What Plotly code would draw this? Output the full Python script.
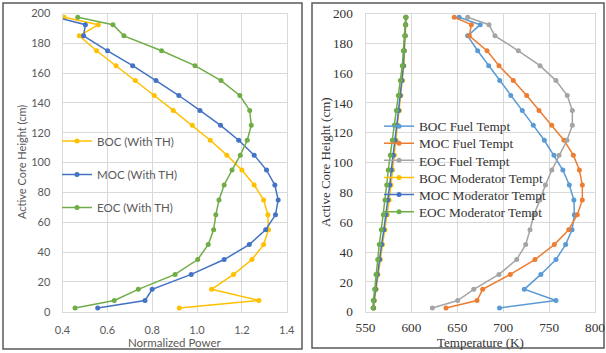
import plotly.graph_objects as go

# ---------------- data ----------------
heights = [2.5, 7.5, 15, 25, 35, 45, 55, 65, 75, 85, 95, 105, 115, 125, 135,
           145, 155, 165, 175, 185, 192.5, 197.5]

boc_power = [0.921, 1.276, 1.065, 1.163, 1.245, 1.297, 1.319, 1.316, 1.297, 1.255, 1.200,
             1.133, 1.059, 0.979, 0.894, 0.809, 0.725, 0.639, 0.552, 0.475, 0.560, 0.408]
moc_power = [0.557, 0.768, 0.800, 0.974, 1.121, 1.233, 1.306, 1.350, 1.362, 1.347, 1.310,
             1.255, 1.186, 1.105, 1.013, 0.919, 0.817, 0.713, 0.601, 0.494, 0.502, 0.370]
eoc_power = [0.456, 0.631, 0.738, 0.902, 1.003, 1.050, 1.074, 1.084, 1.098, 1.121, 1.156,
             1.193, 1.224, 1.242, 1.235, 1.191, 1.107, 0.991, 0.842, 0.674, 0.625, 0.468]

boc_fuel = [696.0, 757.5, 723.0, 741.0, 757.5, 768.0, 775.0, 777.5, 777.0, 772.0, 765.0,
            755.3, 744.8, 732.8, 720.8, 708.2, 696.2, 684.2, 672.2, 661.3, 675.0, 652.0]
moc_fuel = [637.7, 671.5, 677.6, 707.7, 734.6, 755.7, 771.4, 780.7, 786.2, 786.2, 783.0,
            776.4, 766.2, 752.8, 739.0, 725.6, 711.0, 695.4, 682.4, 663.1, 665.3, 646.7]
eoc_fuel = [622.8, 650.4, 667.9, 695.4, 714.7, 724.5, 729.2, 733.5, 740.0, 746.0, 753.0,
            760.8, 769.5, 775.3, 775.3, 769.8, 757.5, 740.1, 716.5, 691.0, 684.5, 661.3]

boc_mod = [559.0, 559.7, 561.6, 563.6, 566.2, 568.6, 571.2, 573.7, 575.8, 577.8, 579.5,
           581.5, 583.4, 585.2, 587.0, 588.6, 590.3, 591.8, 592.5, 593.5, 594.0, 594.3]
moc_mod = [558.7, 559.2, 561.0, 562.9, 565.3, 567.5, 570.0, 572.4, 574.4, 576.4, 578.1,
           580.2, 582.2, 584.1, 586.0, 587.7, 589.6, 591.3, 592.0, 593.2, 593.7, 594.0]
eoc_mod = [558.2, 558.5, 560.0, 561.4, 563.3, 565.0, 567.2, 569.4, 571.2, 573.1, 574.8,
           577.0, 579.2, 581.4, 583.6, 585.7, 588.0, 590.1, 591.2, 592.7, 593.4, 593.8]

left_names = ["BOC (With TH)", "MOC (With TH)", "EOC (With TH)"]
right_names = ["BOC Fuel Tempt", "MOC Fuel Tempt", "EOC Fuel Tempt",
               "BOC Moderator Tempt", "MOC Moderator Tempt", "EOC Moderator Tempt"]

# ---------------- figure ----------------
W, H = 606, 353


def px_x(p):
    return p / W


def px_y(p):
    return 1 - p / H


grid = "#D9D9D9"
sans = "Lato, Noto Sans, sans-serif"
serif = "Liberation Serif, Times New Roman, serif"
left_tick_font = dict(family=sans, size=11, color="#595959")
left_leg_font = dict(family=sans, size=11.5, color="#595959")
right_font = dict(family=serif, size=13.3, color="#333333")

fig = go.Figure()
legend_layouts = {}
k = 0

left_colors = ["#FFC000", "#4472C4", "#70AD47"]
left_leg_y = [141, 174.5, 207.5]
for name, xs, c, ly in zip(left_names, [boc_power, moc_power, eoc_power], left_colors, left_leg_y):
    k += 1
    lid = "legend" if k == 1 else f"legend{k}"
    fig.add_trace(go.Scatter(
        x=xs, y=heights, name=name, mode="lines+markers",
        line=dict(color=c, width=1.5), marker=dict(color=c, size=5),
        xaxis="x", yaxis="y", legend=lid))
    legend_layouts[lid] = dict(x=px_x(57), y=px_y(ly), xanchor="left", yanchor="middle",
                               bgcolor="rgba(0,0,0,0)", font=left_leg_font)

right_colors = ["#5B9BD5", "#ED7D31", "#A5A5A5", "#FFC000", "#4472C4", "#70AD47"]
right_leg_y = [126.5, 143.6, 160.7, 177.8, 194.9, 212.0]
for name, xs, c, ly in zip(right_names,
                           [boc_fuel, moc_fuel, eoc_fuel, boc_mod, moc_mod, eoc_mod],
                           right_colors, right_leg_y):
    k += 1
    lid = f"legend{k}"
    fig.add_trace(go.Scatter(
        x=xs, y=heights, name=name, mode="lines+markers",
        line=dict(color=c, width=1.5), marker=dict(color=c, size=5),
        xaxis="x2", yaxis="y2", legend=lid))
    legend_layouts[lid] = dict(x=px_x(379), y=px_y(ly), xanchor="left", yanchor="middle",
                               bgcolor="rgba(0,0,0,0)", font=right_font)

ydom = [px_y(311.7), px_y(13.5)]
common = dict(showgrid=True, gridcolor=grid, gridwidth=1, showline=True, mirror=True,
              linecolor=grid, zeroline=False, automargin=False)

fig.update_layout(
    width=W, height=H,
    margin=dict(l=0, r=0, t=0, b=0, autoexpand=False),
    paper_bgcolor="white", plot_bgcolor="white",
    xaxis=dict(domain=[px_x(62.5), px_x(286.7)], range=[0.4, 1.4], dtick=0.2,
               tickformat=".1f", tickfont=left_tick_font, ticklabelstandoff=8,
               anchor="y", **common),
    yaxis=dict(domain=ydom, range=[0, 200], dtick=20, tickfont=left_tick_font,
               ticklabelstandoff=9, anchor="x", **common),
    xaxis2=dict(domain=[px_x(365.5), px_x(595)], range=[550, 800], dtick=50,
                tickfont=right_font, ticklabelstandoff=3, anchor="y2", **common),
    yaxis2=dict(domain=ydom, range=[0, 200], dtick=20, tickfont=right_font,
                ticklabelstandoff=9, anchor="x2", **common),
    showlegend=True,
    **legend_layouts,
)

# panel frames
fig.add_shape(type="rect", xref="paper", yref="paper",
              x0=px_x(3), x1=px_x(302), y0=px_y(349), y1=px_y(3),
              line=dict(color="#595959", width=1.5), layer="below")
fig.add_shape(type="rect", xref="paper", yref="paper",
              x0=px_x(312), x1=px_x(604), y0=px_y(348), y1=px_y(3),
              line=dict(color="#595959", width=1.5), layer="below")

# axis titles
fig.add_annotation(text="Normalized Power", xref="paper", yref="paper",
                   x=px_x(175), y=px_y(342.5), showarrow=False,
                   xanchor="center", yanchor="middle",
                   font=dict(family=sans, size=11.5, color="#595959"))
fig.add_annotation(text="Active Core Height (cm)", xref="paper", yref="paper",
                   x=px_x(21), y=px_y(162), showarrow=False, textangle=-90,
                   xanchor="center", yanchor="middle",
                   font=dict(family=sans, size=11, color="#595959"))
fig.add_annotation(text="Temperature (K)", xref="paper", yref="paper",
                   x=px_x(480), y=px_y(342), showarrow=False,
                   xanchor="center", yanchor="middle",
                   font=dict(family=serif, size=13, color="#333333"))
fig.add_annotation(text="Active Core Height (cm)", xref="paper", yref="paper",
                   x=px_x(325), y=px_y(162), showarrow=False, textangle=-90,
                   xanchor="center", yanchor="middle",
                   font=dict(family=serif, size=13, color="#333333"))

fig.write_html("out.html", config={"displayModeBar": False},
               post_script="document.body.style.margin='0px';")
